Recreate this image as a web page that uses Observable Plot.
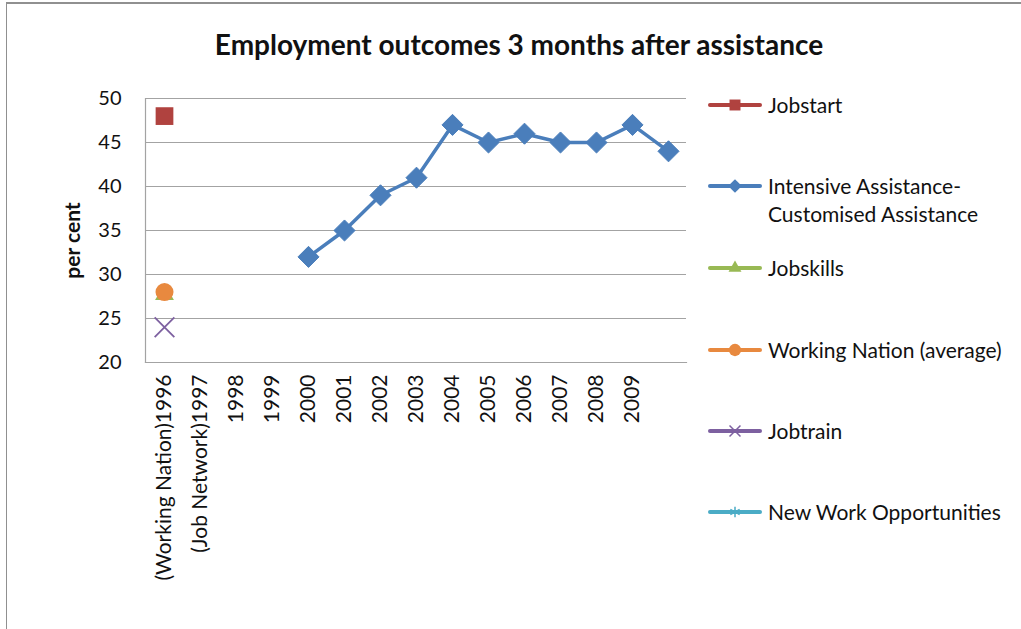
<!DOCTYPE html>
<html>
<head>
<meta charset="utf-8">
<script src="https://cdn.jsdelivr.net/npm/d3@7"></script>
<script src="https://cdn.jsdelivr.net/npm/@observablehq/plot@0.6"></script>
<style>
  html, body { margin: 0; padding: 0; background: #fff; }
  #wrap { position: relative; width: 1021px; height: 629px; overflow: hidden; font-family: Lato, "Open Sans", sans-serif; color: #111; }
  #border { position: absolute; left: 6px; top: 2px; width: 1100px; height: 700px; border-top: 2px solid #909090; border-left: 1.5px solid #909090; box-sizing: border-box; }
  #title { position: absolute; left: 0; top: 27px; width: 1038px; text-align: center; font-size: 28px; font-weight: 700; white-space: nowrap; }
  #legend { position: absolute; left: 708px; top: 0; }
  .item { position: absolute; left: 0; display: flex; align-items: flex-start; white-space: nowrap; font-size: 21px; line-height: 28px; }
  .item svg { margin-top: 4px; margin-right: 6px; }
  #chart { position: absolute; left: 0; top: 0; }
  #chart svg text { font-family: Lato, "Open Sans", sans-serif; fill: #111; }
</style>
</head>
<body>
<div id="wrap">
  <div id="border"></div>
  <div id="chart"></div>
  <div id="title">Employment outcomes 3 months after assistance</div>
  <div id="legend"></div>
</div>
<script>
// ---- data ----
const categories = ["(Working Nation)1996", "(Job Network)1997", "1998", "1999", "2000", "2001", "2002", "2003", "2004", "2005", "2006", "2007", "2008", "2009", ""];
const jobstart = [48, null, null, null, null, null, null, null, null, null, null, null, null, null, null];
const intensive = [null, null, null, null, 32, 35, 39, 41, 47, 45, 46, 45, 45, 47, 44];
const jobskills = [28, null, null, null, null, null, null, null, null, null, null, null, null, null, null];
const workingNation = [28, null, null, null, null, null, null, null, null, null, null, null, null, null, null];
const jobtrain = [24, null, null, null, null, null, null, null, null, null, null, null, null, null, null];
const newWork = [null, null, null, null, null, null, null, null, null, null, null, null, null, null, null];
const yTicks = [20, 25, 30, 35, 40, 45, 50];

const seriesNames = ["Jobstart", "Intensive Assistance-\nCustomised Assistance", "Jobskills", "Working Nation (average)", "Jobtrain", "New Work Opportunities"];
const seriesColors = ["#B0423F", "#4A7EBB", "#98B954", "#E8893F", "#7D60A0", "#4BACC6"];
const seriesSymbols = ["square", "diamond2", "triangle2", "circle", "times", "asterisk"];

const toRows = (vals) => categories.map((c, i) => ({cat: c, v: vals[i]})).filter(d => d.v != null);

const chart = Plot.plot({
  width: 1021,
  height: 629,
  marginLeft: 145,
  marginRight: 335,
  marginTop: 98,
  marginBottom: 267,
  x: {type: "point", domain: categories, padding: 0.5},
  y: {domain: [20, 50]},
  style: {fontSize: "20px", fontFamily: "Lato, 'Open Sans', sans-serif", color: "#111", background: "transparent"},
  marks: [
    Plot.gridY(yTicks, {stroke: "#a3a3a3", strokeOpacity: 1, strokeWidth: 1.2}),
    Plot.frame({anchor: "left", stroke: "#a3a3a3", strokeWidth: 1.2}),
    Plot.frame({anchor: "bottom", stroke: "#a3a3a3", strokeWidth: 1.2}),
    Plot.axisY({ticks: yTicks, tickSize: 0, tickPadding: 24, fontSize: 20, label: null}),
    Plot.text(["per cent"], {frameAnchor: "left", textAnchor: "middle", dx: -72, dy: 10, rotate: -90, fontSize: 21, fontWeight: "bold", fill: "#111"}),
    Plot.axisX({tickSize: 0, tickPadding: 12, tickRotate: -90, fontSize: 21, label: null}),
    Plot.line(toRows(intensive), {x: "cat", y: "v", stroke: seriesColors[1], strokeWidth: 3.5}),
    Plot.dot(toRows(intensive), {x: "cat", y: "v", symbol: "diamond2", r: 9.5, fill: seriesColors[1], stroke: seriesColors[1], strokeWidth: 1}),
    Plot.dot(toRows(jobstart), {x: "cat", y: "v", symbol: "square", r: 10, fill: seriesColors[0]}),
    Plot.dot(toRows(jobskills), {x: "cat", y: "v", symbol: "triangle2", r: 9, dy: 2.5, fill: seriesColors[2]}),
    Plot.dot(toRows(workingNation), {x: "cat", y: "v", symbol: "circle", r: 9, fill: seriesColors[3]}),
    Plot.dot(toRows(jobtrain), {x: "cat", y: "v", symbol: "times", r: 9, stroke: seriesColors[4], strokeWidth: 1.8}),
    Plot.dot(toRows(newWork), {x: "cat", y: "v", symbol: "asterisk", r: 9, stroke: seriesColors[5], strokeWidth: 1.8})
  ]
});
document.getElementById("chart").appendChild(chart);

// ---- legend ----
const legendTops = [91, 172, 254, 336, 417, 498];
const symMap = {square: d3.symbolSquare, diamond2: d3.symbolDiamond2, triangle2: d3.symbolTriangle2, circle: d3.symbolCircle, times: d3.symbolTimes, asterisk: d3.symbolAsterisk};
const legend = d3.select("#legend");
seriesNames.forEach((name, i) => {
  const item = legend.append("div").attr("class", "item").style("top", legendTops[i] + "px");
  const s = item.append("svg").attr("width", 54).attr("height", 20);
  s.append("line").attr("x1", 2).attr("x2", 52).attr("y1", 10).attr("y2", 10)
    .attr("stroke", seriesColors[i]).attr("stroke-width", 4).attr("stroke-linecap", "round");
  const stroked = seriesSymbols[i] === "times" || seriesSymbols[i] === "asterisk";
  s.append("path").attr("transform", "translate(27,10)")
    .attr("d", d3.symbol(symMap[seriesSymbols[i]], stroked ? 80 : 120)())
    .attr("fill", stroked ? "none" : seriesColors[i])
    .attr("stroke", stroked ? seriesColors[i] : "none").attr("stroke-width", 1.5);
  const t = item.append("div");
  name.split("\n").forEach(line => t.append("div").text(line));
});
</script>
</body>
</html>
